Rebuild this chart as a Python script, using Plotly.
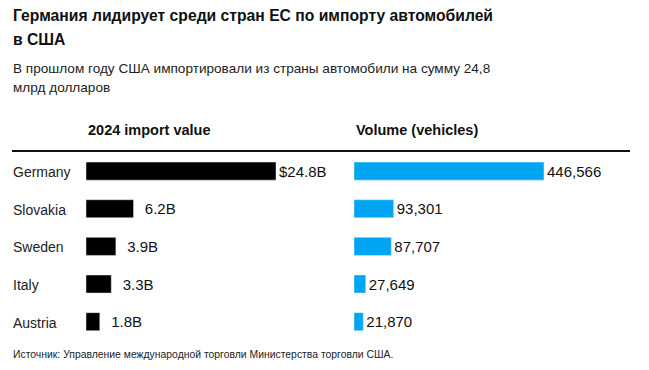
import plotly.graph_objects as go

countries = ["Germany", "Slovakia", "Sweden", "Italy", "Austria"]
import_value_b = [24.8, 6.2, 3.9, 3.3, 1.8]
import_labels = ["$24.8B", "6.2B", "3.9B", "3.3B", "1.8B"]
volume = [446566, 93301, 87707, 27649, 21870]
volume_labels = ["446,566", "93,301", "87,707", "27,649", "21,870"]

title_lines = ["Германия лидирует среди стран ЕС по импорту автомобилей", "в США"]
subtitle_lines = ["В прошлом году США импортировали из страны автомобили на сумму 24,8", "млрд долларов"]
header_left = "2024 import value"
header_right = "Volume (vehicles)"
source = "Источник: Управление международной торговли Министерства торговли США."

OFF = 8  # page body margin
W, H = 649 - OFF, 370 - OFF
FONT = "Liberation Sans, Arial, sans-serif"
BLUE = "#00A6F4"

def px(x):
    return (x - OFF) / W

def py(y):
    return 1 - (y - OFF) / H

left_text = [t if t.startswith("$") else "<span style='color:rgba(0,0,0,0)'>$</span>" + t
             for t in import_labels]

fig = go.Figure()
fig.add_trace(go.Bar(
    x=import_value_b, y=countries, orientation="h", marker_color="#000000",
    text=left_text, textposition="outside", cliponaxis=False,
    textfont=dict(size=15, color="#111111", family=FONT),
    xaxis="x", yaxis="y", hoverinfo="skip"))
fig.add_trace(go.Bar(
    x=volume, y=countries, orientation="h", marker_color=BLUE,
    text=volume_labels, textposition="outside", cliponaxis=False,
    textfont=dict(size=15, color="#111111", family=FONT),
    xaxis="x2", yaxis="y2", hoverinfo="skip"))

bar_px = 190.0
lx0, lx1 = 86, 330
rx0, rx1 = 354, 630
top_px, bot_px = 152.3, 340.5

fig.update_layout(
    width=W, height=H, margin=dict(l=0, r=0, t=0, b=0),
    paper_bgcolor="white", plot_bgcolor="rgba(0,0,0,0)",
    showlegend=False, bargap=0.52,
    font=dict(family=FONT, color="#111111"),
    xaxis=dict(domain=[px(lx0), px(lx1)], range=[0, max(import_value_b) * (lx1 - lx0) / bar_px],
               visible=False, fixedrange=True),
    xaxis2=dict(domain=[px(rx0), px(rx1)], range=[0, max(volume) * (rx1 - rx0) / bar_px],
                visible=False, fixedrange=True),
    yaxis=dict(domain=[py(bot_px), py(top_px)], range=[4.5, -0.5], visible=False,
               anchor="x", type="category", categoryarray=countries),
    yaxis2=dict(domain=[py(bot_px), py(top_px)], range=[4.5, -0.5], visible=False,
                anchor="x2", type="category", categoryarray=countries),
)

ann = []
for i, line in enumerate(title_lines):
    ann.append(dict(text="<b>" + line + "</b>", x=px(11), y=py(15 + 24.5 * i), xref="paper", yref="paper",
                    xanchor="left", yanchor="middle", showarrow=False,
                    font=dict(size=15.7, color="#111111", family=FONT)))
for i, line in enumerate(subtitle_lines):
    ann.append(dict(text=line, x=px(11), y=py(68 + 19.5 * i), xref="paper", yref="paper",
                    xanchor="left", yanchor="middle", showarrow=False,
                    font=dict(size=13.6, color="#222222", family=FONT)))
ann.append(dict(text="<b>" + header_left + "</b>", x=px(86), y=py(130), xref="paper", yref="paper",
                xanchor="left", yanchor="middle", showarrow=False,
                font=dict(size=14.5, color="#111111", family=FONT)))
ann.append(dict(text="<b>" + header_right + "</b>", x=px(354), y=py(130), xref="paper", yref="paper",
                xanchor="left", yanchor="middle", showarrow=False,
                font=dict(size=14.5, color="#111111", family=FONT)))
for c in countries:
    ann.append(dict(text=c, x=px(11), y=c, xref="paper", yref="y",
                    xanchor="left", yanchor="middle", showarrow=False, yshift=-1,
                    font=dict(size=14, color="#222222", family=FONT)))
ann.append(dict(text=source, x=px(11), y=py(354), xref="paper", yref="paper",
                xanchor="left", yanchor="middle", showarrow=False,
                font=dict(size=10.4, color="#222222", family=FONT)))
fig.update_layout(annotations=ann)

fig.add_shape(type="line", xref="paper", yref="paper", x0=px(12), x1=px(630), y0=py(151), y1=py(151),
              line=dict(color="#111111", width=2))

fig.write_html("out.html")
